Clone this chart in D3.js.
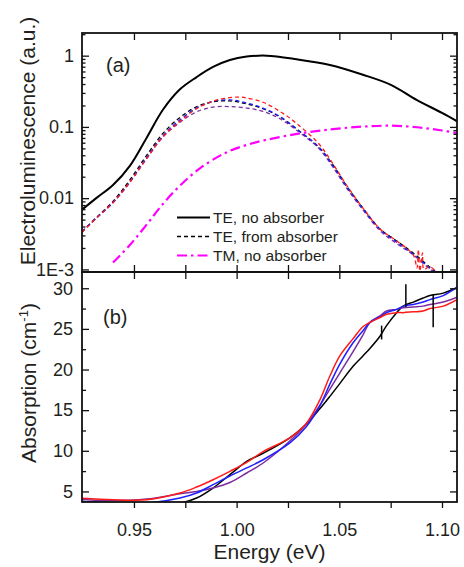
<!DOCTYPE html>
<html>
<head>
<meta charset="utf-8">
<script src="https://cdn.jsdelivr.net/npm/d3@7"></script>
<style>
  body { margin: 0; background: #fff; }
  text { font-family: "Liberation Sans", Arial, sans-serif; fill: #231f20; }
</style>
</head>
<body>
<div id="chart"></div>
<script>
// ---- panel (a): electroluminescence ----
const teSolidE = [0.9247, 0.9318, 0.9398, 0.9481, 0.9562, 0.9641, 0.9724, 0.9805, 0.9885, 0.9967, 1.0049, 1.0146, 1.0292, 1.0454, 1.0615, 1.0751, 1.0876, 1.10, 1.1073];
const teSolidV = [0.0069, 0.0101, 0.0153, 0.0287, 0.0706, 0.174, 0.337, 0.50, 0.695, 0.87, 0.97, 1.0, 0.89, 0.74, 0.54, 0.39, 0.24, 0.157, 0.12];

const dashE = [0.9247, 0.9318, 0.9398, 0.9481, 0.9562, 0.9641, 0.9724, 0.9805, 0.9885, 0.9967, 1.0049, 1.0128, 1.0211, 1.0308, 1.04, 1.047, 1.054, 1.0616, 1.0698, 1.078, 1.086, 1.094, 1.0975];
const dashBlack  = [0.0034, 0.0054, 0.0090, 0.0182, 0.040, 0.081, 0.136, 0.192, 0.225, 0.232, 0.21, 0.18, 0.138, 0.086, 0.052, 0.029, 0.0142, 0.0072, 0.0037, 0.0025, 0.0017, 0.00108, 0.0009];
const dashBlue   = [0.0034, 0.0053, 0.0087, 0.0171, 0.037, 0.075, 0.126, 0.184, 0.227, 0.24, 0.216, 0.184, 0.14, 0.0865, 0.052, 0.028, 0.0138, 0.007, 0.00365, 0.0024, 0.00163, 0.00104, 0.00088];
const dashPurple = [0.0034, 0.0053, 0.0086, 0.0168, 0.036, 0.072, 0.116, 0.163, 0.19, 0.193, 0.184, 0.165, 0.13, 0.083, 0.05, 0.027, 0.0133, 0.0068, 0.0035, 0.0023, 0.0016, 0.00102, 0.00086];
const dashRedE   = [0.9247, 0.9318, 0.9398, 0.9481, 0.9562, 0.9641, 0.9724, 0.9805, 0.9885, 0.9967, 1.0016, 1.0049, 1.0128, 1.0211, 1.029, 1.04, 1.047, 1.054, 1.0616, 1.0698, 1.078, 1.086, 1.0878, 1.0885, 1.0892, 1.0905, 1.0912, 1.094, 1.0975];
const dashRed    = [0.0033, 0.0053, 0.0087, 0.0170, 0.036, 0.073, 0.12, 0.18, 0.23, 0.258, 0.262, 0.255, 0.222, 0.165, 0.113, 0.058, 0.03, 0.0145, 0.0072, 0.0037, 0.0025, 0.0016, 0.00105, 0.0019, 0.00095, 0.0017, 0.001, 0.0011, 0.0009];

const tmE = [0.9398, 0.948, 0.9563, 0.9641, 0.9724, 0.9821, 0.9919, 0.9982, 1.005, 1.0146, 1.0308, 1.0469, 1.0615, 1.0751, 1.0878, 1.10, 1.1073];
const tmV = [0.00125, 0.0022, 0.0043, 0.0083, 0.015, 0.0262, 0.0395, 0.048, 0.056, 0.066, 0.081, 0.093, 0.101, 0.104, 0.099, 0.089, 0.082];

// ---- panel (b): absorption ----
const absE = [0.9247, 0.9398, 0.9562, 0.9724, 0.9805, 0.9885, 0.9967, 1.0049, 1.0129, 1.0259, 1.034, 1.0406, 1.0454, 1.0503, 1.0567, 1.0616, 1.0649, 1.0698, 1.073, 1.0779, 1.0811, 1.086, 1.0908, 1.0941, 1.1006, 1.1073];
const absBlack  = [3.77, 3.55, 3.48, 3.57, 4.19, 5.42, 7.06, 8.7, 9.7, 11.6, 13.3, 15.2, 16.7, 18.3, 20.4, 21.7, 22.6, 24.1, 25.4, 27.0, 27.8, 28.3, 28.8, 29.1, 29.4, 30.1];
const absBlue   = [3.77, 3.6, 3.57, 4.19, 4.8, 5.83, 6.9, 7.89, 8.9, 10.97, 13.0, 15.6, 18.2, 20.7, 23.3, 24.8, 25.8, 26.5, 27.0, 27.4, 27.8, 28.0, 28.3, 28.6, 29.1, 30.1];
const absPurple = [4.0, 3.85, 4.06, 4.72, 5.0, 5.42, 6.1, 7.27, 8.5, 11.2, 13.3, 15.6, 17.6, 19.6, 22.2, 24.3, 25.8, 26.6, 27.2, 27.4, 27.6, 27.7, 27.8, 28.0, 28.3, 28.9];
const absRed    = [4.15, 3.98, 3.98, 4.8, 5.54, 6.44, 7.47, 8.58, 9.9, 11.6, 13.4, 16.3, 19.2, 21.7, 23.8, 25.3, 25.8, 26.4, 26.8, 27.0, 27.0, 27.1, 27.2, 27.5, 27.8, 28.6];
// spikes on the black absorption trace
const spikeE   = [1.0706, 1.0824, 1.0957];
const spikeTop = [25.4, 30.5, 29.3];
const spikeBot = [23.7, 27.7, 25.2];

// ---- ticks ----
const energyTicks = [0.95, 0.975, 1.0, 1.025, 1.05, 1.075, 1.10];
const energyLabels = [0.95, 1.0, 1.05, 1.10];
const elTicks = [1, 0.1, 0.01, 0.001];
const elLabels = ["1", "0.1", "0.01", "1E-3"];
const absTicks = [5, 10, 15, 20, 25, 30];
const absMinor = [7.5, 12.5, 17.5, 22.5, 27.5];

const W = 464, H = 567;
const left = 82, right = 457, topA = 33, mid = 272, botB = 502;

const svg = d3.select("#chart").append("svg")
    .attr("width", W)
    .attr("height", H);

const x = d3.scaleLinear().domain([0.9247, 1.1073]).range([left, right]);
const yA = d3.scaleLog().domain([0.00092, 2.08]).range([mid, topA]);
const yB = d3.scaleLinear().domain([3.7, 32]).range([botB, mid]);

// log minor ticks
const elMinor = [];
for (let k = -4; k <= 0; k++) {
    for (let m = 2; m <= 9; m++) {
        const v = m * Math.pow(10, k);
        if (v >= 0.00092 && v <= 2.08) elMinor.push(v);
    }
}

const defs = svg.append("defs");
defs.append("clipPath").attr("id", "clipA").append("rect")
    .attr("x", left).attr("y", topA).attr("width", right - left).attr("height", mid - topA);
defs.append("clipPath").attr("id", "clipB").append("rect")
    .attr("x", left).attr("y", mid).attr("width", right - left).attr("height", botB - mid);

function styleAxis(g) {
    g.select(".domain").remove();
    g.selectAll("line").attr("stroke", "#111").attr("stroke-width", 1.3);
    g.selectAll("text").attr("font-size", 18).attr("fill", "#231f20")
        .attr("font-family", "'Liberation Sans', Arial, sans-serif");
}

// ---------- panel (a) ----------
const plotA = svg.append("g").attr("clip-path", "url(#clipA)");

const lineA = (xs, vs) => d3.line()
    .x(i => x(xs[i]))
    .y(i => yA(vs[i]))
    .curve(d3.curveCatmullRom.alpha(0.5))(d3.range(xs.length));

plotA.append("path")
    .attr("d", lineA(teSolidE, teSolidV))
    .attr("fill", "none").attr("stroke", "#000").attr("stroke-width", 2);

const dashed = [
    { xs: dashE, vs: dashBlack, color: "#000" },
    { xs: dashE, vs: dashPurple, color: "#7d2c9e" },
    { xs: dashE, vs: dashBlue, color: "#1f1fff" },
    { xs: dashRedE, vs: dashRed, color: "#ff1a1a" }
];
dashed.forEach(s => {
    plotA.append("path")
        .attr("d", lineA(s.xs, s.vs))
        .attr("fill", "none")
        .attr("stroke", s.color)
        .attr("stroke-width", 1.3)
        .attr("stroke-dasharray", "4,3");
});

plotA.append("path")
    .attr("d", lineA(tmE, tmV))
    .attr("fill", "none").attr("stroke", "#ff00ff").attr("stroke-width", 2.2)
    .attr("stroke-dasharray", "10,4,2.5,4");

// axes panel (a)
svg.append("g").attr("transform", `translate(${left},0)`)
    .call(d3.axisLeft(yA).tickValues(elTicks).tickSize(-7).tickPadding(8)
        .tickFormat((d, i) => elLabels[i]))
    .call(styleAxis);
svg.append("g").attr("transform", `translate(${left},0)`)
    .call(d3.axisLeft(yA).tickValues(elMinor).tickSize(-3.5).tickFormat(""))
    .call(styleAxis);
svg.append("g").attr("transform", `translate(${right},0)`)
    .call(d3.axisRight(yA).tickValues(elTicks).tickSize(-7).tickFormat(""))
    .call(styleAxis);
svg.append("g").attr("transform", `translate(${right},0)`)
    .call(d3.axisRight(yA).tickValues(elMinor).tickSize(-3.5).tickFormat(""))
    .call(styleAxis);
svg.append("g").attr("transform", `translate(0,${topA})`)
    .call(d3.axisTop(x).tickValues(energyTicks).tickSize(-7).tickFormat(""))
    .call(styleAxis);
svg.append("g").attr("transform", `translate(0,${mid})`)
    .call(d3.axisBottom(x).tickValues(energyTicks).tickSize(-7).tickFormat(""))
    .call(styleAxis);

// ---------- panel (b) ----------
const plotB = svg.append("g").attr("clip-path", "url(#clipB)");
const lineB = (xs, vs) => d3.line()
    .x(i => x(xs[i]))
    .y(i => yB(vs[i]))
    .curve(d3.curveCatmullRom.alpha(0.5))(d3.range(xs.length));

[
    { vs: absBlack, color: "#000" },
    { vs: absPurple, color: "#7d2c9e" },
    { vs: absBlue, color: "#1f1fff" },
    { vs: absRed, color: "#ff1a1a" }
].forEach(s => {
    plotB.append("path")
        .attr("d", lineB(absE, s.vs))
        .attr("fill", "none")
        .attr("stroke", s.color)
        .attr("stroke-width", 1.5);
});

plotB.selectAll(".spike")
    .data(d3.range(spikeE.length))
    .enter().append("line")
    .attr("class", "spike")
    .attr("x1", i => x(spikeE[i])).attr("x2", i => x(spikeE[i]))
    .attr("y1", i => yB(spikeTop[i])).attr("y2", i => yB(spikeBot[i]))
    .attr("stroke", "#000").attr("stroke-width", 1.5);

svg.append("g").attr("transform", `translate(${left},0)`)
    .call(d3.axisLeft(yB).tickValues(absTicks).tickSize(-7).tickPadding(9).tickFormat(d3.format("d")))
    .call(styleAxis);
svg.append("g").attr("transform", `translate(${left},0)`)
    .call(d3.axisLeft(yB).tickValues(absMinor).tickSize(-4).tickFormat(""))
    .call(styleAxis);
svg.append("g").attr("transform", `translate(${right},0)`)
    .call(d3.axisRight(yB).tickValues(absTicks).tickSize(-7).tickFormat(""))
    .call(styleAxis);
svg.append("g").attr("transform", `translate(${right},0)`)
    .call(d3.axisRight(yB).tickValues(absMinor).tickSize(-4).tickFormat(""))
    .call(styleAxis);
svg.append("g").attr("transform", `translate(0,${mid})`)
    .call(d3.axisTop(x).tickValues(energyTicks).tickSize(-7).tickFormat(""))
    .call(styleAxis);
svg.append("g").attr("transform", `translate(0,${botB})`)
    .call(d3.axisBottom(x).tickValues(energyTicks).tickSize(6).tickPadding(15)
        .tickFormat(d => energyLabels.some(v => Math.abs(v - d) < 1e-9) ? d3.format(".2f")(d) : ""))
    .call(styleAxis);

// frames
[[topA, mid], [mid, botB]].forEach(([t, b]) => {
    svg.append("rect")
        .attr("x", left).attr("y", t)
        .attr("width", right - left).attr("height", b - t)
        .attr("fill", "none").attr("stroke", "#111").attr("stroke-width", 1.8);
});

// panel letters
svg.append("text").attr("x", 106).attr("y", 72).attr("font-size", 20).text("(a)");
svg.append("text").attr("x", 103).attr("y", 324).attr("font-size", 20).text("(b)");

// legend
const legendRows = [
    { label: "TE, no absorber", color: "#000", width: 2, dash: null },
    { label: "TE, from absorber", color: "#000", width: 1.3, dash: "4,3" },
    { label: "TM, no absorber", color: "#ff00ff", width: 2.2, dash: "10,4,2.5,4" }
];
const legend = svg.append("g");
legendRows.forEach((r, i) => {
    const y = 217.5 + i * 19;
    legend.append("line")
        .attr("x1", 177).attr("x2", 210).attr("y1", y).attr("y2", y)
        .attr("stroke", r.color).attr("stroke-width", r.width)
        .attr("stroke-dasharray", r.dash);
    legend.append("text")
        .attr("x", 213).attr("y", y + 5.5)
        .attr("font-size", 15.5)
        .text(r.label);
});

// axis titles
svg.append("text")
    .attr("transform", "translate(35,141) rotate(-90)")
    .attr("text-anchor", "middle")
    .attr("font-size", 21)
    .text("Electroluminescence (a.u.)");

const absTitle = svg.append("text")
    .attr("transform", "translate(36,383) rotate(-90)")
    .attr("text-anchor", "middle")
    .attr("font-size", 21);
absTitle.append("tspan").text("Absorption (cm");
absTitle.append("tspan").attr("font-size", 13).attr("dy", -8).text("-1");
absTitle.append("tspan").attr("dy", 8).text(")");

svg.append("text")
    .attr("x", (left + right) / 2).attr("y", 559)
    .attr("text-anchor", "middle")
    .attr("font-size", 21)
    .text("Energy (eV)");
</script>
</body>
</html>
